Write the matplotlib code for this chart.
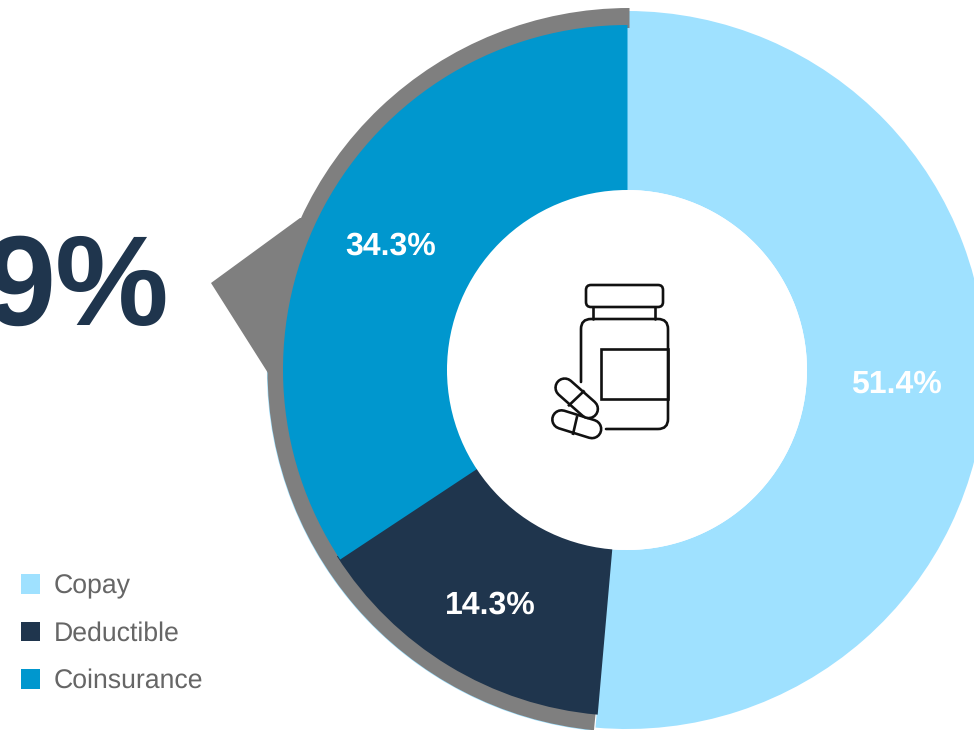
#!/usr/bin/env python3
"""Cost-sharing donut chart with a pill bottle icon in the centre."""

import matplotlib
matplotlib.use("Agg")
import matplotlib.pyplot as plt
from matplotlib.patches import Circle, FancyBboxPatch, Patch, PathPatch, Polygon, Rectangle, Wedge
from matplotlib.path import Path

matplotlib.rcParams["font.family"] = ["Liberation Sans", "DejaVu Sans"]
matplotlib.rcParams["text.hinting"] = "none"
matplotlib.rcParams["text.kerning_factor"] = 6

CATEGORIES = ["Copay", "Deductible", "Coinsurance"]
SHARES = [51.4, 14.3, 34.3]
COLORS = ["#9FE1FF", "#1F354D", "#0097CE"]
HEADLINE = "9%"

GREY = "#7F7F7F"
INK = "#111111"
LW = 1.9
CX, CY = 627, 370
R_OUTER, R_INNER = 359, 180


def pill(ax, p0, p1, radius, divider):
    # thick round-capped strokes give the capsule outline and white fill
    xs, ys = [p0[0], p1[0]], [p0[1], p1[1]]
    ax.plot(xs, ys, color=INK, lw=(2 * radius + 2.6) * 0.72, solid_capstyle="round", zorder=5)
    ax.plot(xs, ys, color="white", lw=(2 * radius - 2.6) * 0.72, solid_capstyle="round", zorder=5)
    ax.plot(divider[0], divider[1], color=INK, lw=LW, zorder=5)


def draw_icon(ax):
    cap = FancyBboxPatch((586, 285), 77, 22, boxstyle="round,pad=0,rounding_size=5",
                         fc="none", ec=INK, lw=LW, zorder=4)
    ax.add_patch(cap)
    line = dict(color=INK, lw=LW, zorder=4, solid_capstyle="round")
    ax.plot([593, 593], [307, 319], **line)
    ax.plot([655, 655], [307, 319], **line)

    # bottle body is an open outline, the pills sit in the gap
    body = Path(
        [(581, 382), (581, 329), (581, 319), (591, 319), (658, 319), (668, 319),
         (668, 329), (668, 419), (668, 429), (658, 429), (606, 429)],
        [Path.MOVETO, Path.LINETO, Path.CURVE3, Path.CURVE3, Path.LINETO, Path.CURVE3,
         Path.CURVE3, Path.LINETO, Path.CURVE3, Path.CURVE3, Path.LINETO],
    )
    ax.add_patch(PathPatch(body, fc="none", ec=INK, lw=LW, capstyle="round", zorder=4))
    ax.add_patch(Rectangle((601, 349), 67, 50, fc="none", ec=INK, lw=LW, zorder=4))

    pill(ax, (561.5, 419.5), (592, 429), 9.2, ([576.9, 573.1], [417.3, 433.7]))
    pill(ax, (564.7, 387.7), (588.7, 408.9), 9.2, ([569, 583.6], [405.3, 391.4]))


def main():
    fig = plt.figure(figsize=(9.74, 7.3), dpi=100)
    ax = fig.add_axes([0, 0, 1, 1])

    # y axis runs downward, so increasing angles sweep clockwise from the top
    wedges, _ = ax.pie(SHARES, colors=COLORS, startangle=-90, counterclock=True,
                       center=(CX, CY), radius=R_OUTER,
                       wedgeprops=dict(width=R_OUTER - R_INNER, linewidth=0))
    copay, deductible, coinsurance = wedges
    copay.set_zorder(1)

    deductible.set_center((628, 371))
    deductible.set_radius(345)
    deductible.set_width(200)
    deductible.set_theta2(deductible.theta2 + 1)
    deductible.set_zorder(3)

    coinsurance.set_center((627.5, 369.5))
    coinsurance.set_radius(344.5)
    coinsurance.set_width(200)
    coinsurance.set_zorder(3.2)

    # the slices above run wide, the hole trims them back to a clean circle
    ax.add_patch(Circle((CX, CY), R_INNER, fc="white", ec="none", zorder=3.5))

    # grey backing band behind the two smaller slices, with the callout pointer
    start = -90 + 3.6 * SHARES[0]
    ax.add_patch(Wedge((629.5, 370), 362.6, start + 0.6, 180, width=3, fc=COLORS[0], ec="none", zorder=1.5))
    ax.add_patch(Wedge((629.5, 370), 362, start + 0.6, 270, width=20, fc=GREY, ec="none", zorder=2))
    ax.add_patch(Polygon([(211, 283), (300, 218), (330, 218), (330, 373), (268, 373)],
                         closed=True, fc=GREY, ec="none", zorder=2))

    label_pos = [(896, 381.5), (490, 602), (391, 243)]
    for share, (x, y) in zip(SHARES, label_pos):
        ax.text(x, y, f"{share}%", color="white", fontsize=23, fontweight="bold",
                ha="center", va="center_baseline", zorder=6)

    ax.text(169, 325, HEADLINE, color=COLORS[1], fontsize=92, fontweight="bold",
            ha="right", va="baseline", zorder=6)

    draw_icon(ax)

    handles = [Patch(facecolor=c, edgecolor="none", label=n) for c, n in zip(COLORS, CATEGORIES)]
    ax.legend(handles=handles, loc="upper left", bbox_to_anchor=(21 / 974, 1 - 574 / 730),
              frameon=False, fontsize=19.2, labelcolor="#666666", borderpad=0, borderaxespad=0,
              handlelength=0.71, handleheight=0.75, handletextpad=0.52, labelspacing=0.83)

    ax.set_xlim(0, 974)
    ax.set_ylim(730, 0)
    ax.set_aspect("equal")
    ax.axis("off")
    fig.savefig("out.png", dpi=100)


if __name__ == "__main__":
    main()
